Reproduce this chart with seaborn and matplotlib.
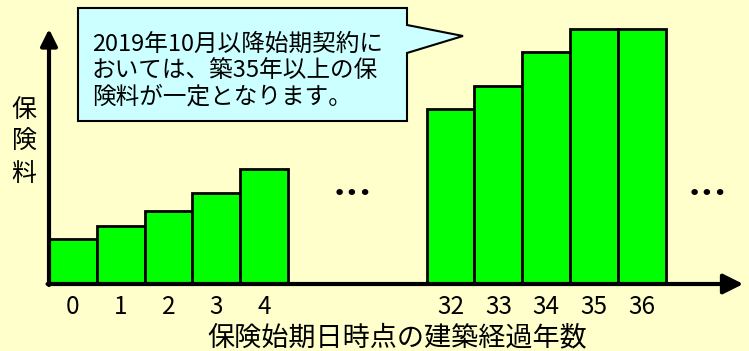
import matplotlib
matplotlib.use("Agg")
import matplotlib.pyplot as plt
import seaborn as sns
import pandas as pd
from matplotlib.patches import Polygon

# ---- data ----
years = ["0", "1", "2", "3", "4", "32", "33", "34", "35", "36"]
premium = [45, 58, 73, 91, 115, 175, 198, 232, 255, 255]
x_label = "保険始期日時点の建築経過年数"
y_label = "保険料"
callout_lines = [
    "2019年10月以降始期契約に",
    "おいては、築35年以上の保",
    "険料が一定となります。",
]
ellipsis = "•••"

# ---- layout ----
W, H = 749, 351
SLOT = 47.8          # pixels per bar slot
GAP = 2.9            # extra slots between the two groups
N_FIRST = 5
pos = [i if i < N_FIRST else i + GAP for i in range(len(years))]

sns.set_theme(style="white")
plt.rcParams["font.family"] = ["Noto Sans CJK JP", "DejaVu Sans"]

fig = plt.figure(figsize=(W / 100, H / 100), dpi=100)
fig.patch.set_facecolor("#FFFFCC")

def fx(x):
    return x / W

def fy(y):
    return 1 - y / H

ax = fig.add_axes([fx(49), fy(284), 700 / W, 284 / H])
ax.set_facecolor("none")

df = pd.DataFrame({"pos": pos, "premium": premium})
sns.barplot(data=df, x="pos", y="premium", native_scale=True, width=1.0,
            color="#00FF00", saturation=1, edgecolor="black", linewidth=2.0,
            errorbar=None, ax=ax)

xmax = -0.5 + 700 / SLOT
ax.set_xlim(-0.5, xmax)
ax.set_ylim(0, 284)
for s in ax.spines.values():
    s.set_visible(False)
ax.set_yticks([])
ax.set_ylabel("")
ax.set_xticks(pos, years)
ax.tick_params(axis="x", length=0, pad=7, labelsize=17.5, colors="black")

ax.set_xlabel(x_label, fontsize=19.5, color="black")
ax.xaxis.set_label_coords((397 - 49) / 700, (284 - 338) / 284)
ax.xaxis.label.set_va("center")

# axis arrows
arrow_y = dict(arrowstyle="-|>", lw=3, color="black", mutation_scale=25,
               shrinkA=0, shrinkB=0)
arrow_x = dict(arrowstyle="-|>", lw=3, color="black", mutation_scale=30,
               shrinkA=0, shrinkB=0)
ax.annotate("", xy=(-0.5, 255), xytext=(-0.5, -1), arrowprops=arrow_y,
            annotation_clip=False)
ax.annotate("", xy=(xmax - 0.12, 0), xytext=(-0.53, 0), arrowprops=arrow_x,
            annotation_clip=False)

# ellipses
ax.text(5.84, 90, ellipsis, ha="center", va="center", fontsize=16,
        family="DejaVu Sans", color="black")
ax.text(13.27, 90, ellipsis, ha="center", va="center", fontsize=16,
        family="DejaVu Sans", color="black")

# y label stacked
for i, ch in enumerate(y_label):
    fig.text(fx(24), fy(110 + 32 * i), ch, fontsize=18, ha="center",
             va="center", color="black")

# callout
verts = [(78, 8), (407, 8), (407, 25), (463, 36), (407, 53), (407, 121), (78, 121)]
fig.add_artist(Polygon([(fx(x), fy(y)) for x, y in verts], closed=True,
                       transform=fig.transFigure, facecolor="#CCFFFF",
                       edgecolor="black", lw=1.5, joinstyle="miter"))
for i, line in enumerate(callout_lines):
    fig.text(fx(92), fy(44 + 26.5 * i), line, fontsize=17, ha="left",
             va="center", color="black")

fig.savefig("out.png", dpi=100, facecolor=fig.get_facecolor())
